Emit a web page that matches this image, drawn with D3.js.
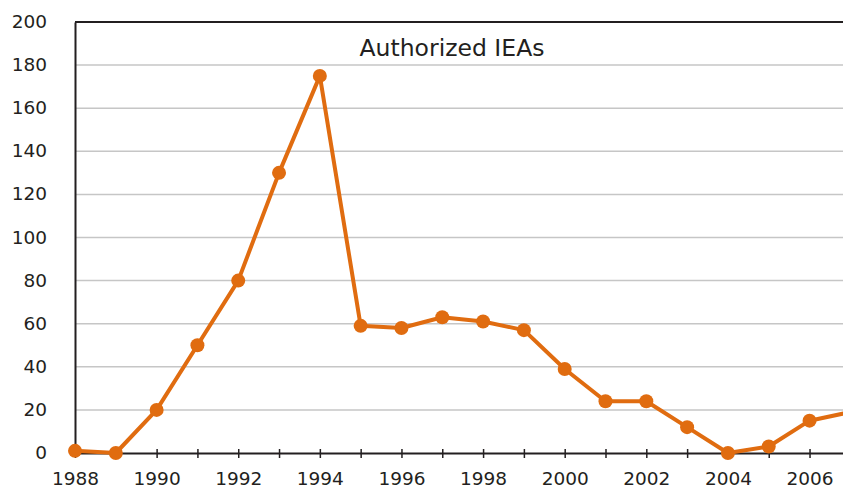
<!DOCTYPE html>
<html>
<head>
<meta charset="utf-8">
<script src="https://cdn.jsdelivr.net/npm/d3@7"></script>
<style>
  body { margin: 0; background: #fff; }
  text { font-family: "DejaVu Sans", "Open Sans", Arial, sans-serif; fill: #231f20; }
</style>
</head>
<body>
<svg id="chart" width="843" height="489"></svg>
<script>
const years = [1988, 1989, 1990, 1991, 1992, 1993, 1994, 1995, 1996, 1997,
  1998, 1999, 2000, 2001, 2002, 2003, 2004, 2005, 2006, 2007];
const authorized = [1, 0, 20, 50, 80, 130, 175, 59, 58, 63,
  61, 57, 39, 24, 24, 12, 0, 3, 15, 19];
const yTicks = [0, 20, 40, 60, 80, 100, 120, 140, 160, 180, 200];
const xLabelYears = [1988, 1990, 1992, 1994, 1996, 1998, 2000, 2002, 2004, 2006];
const title = 'Authorized IEAs';

const width = 843, height = 489;
const margin = { top: 22, right: 0, bottom: 36, left: 75 };
const orange = '#e06c10';

const svg = d3.select('#chart');
const data = years.map((y, i) => ({ year: y, value: authorized[i] }));

const xScale = d3.scaleLinear()
  .domain([1988, 2006.82])
  .range([margin.left, width - margin.right]);
const yScale = d3.scaleLinear()
  .domain([0, 200])
  .range([height - margin.bottom, margin.top]);

// gridlines
svg.append('g')
  .selectAll('line')
  .data(yTicks.filter(d => d > 0 && d < 200))
  .join('line')
  .attr('x1', margin.left)
  .attr('x2', width)
  .attr('y1', d => yScale(d))
  .attr('y2', d => yScale(d))
  .attr('stroke', '#c6c6c6')
  .attr('stroke-width', 1.5);

// top border
svg.append('line')
  .attr('x1', margin.left).attr('x2', width)
  .attr('y1', yScale(200)).attr('y2', yScale(200))
  .attr('stroke', '#231f20').attr('stroke-width', 1.8);

// y axis
const yAxis = svg.append('g')
  .attr('transform', `translate(${margin.left},0)`)
  .call(d3.axisLeft(yScale).tickValues(yTicks).tickSize(0).tickPadding(28));
yAxis.select('.domain').attr('stroke', '#231f20').attr('stroke-width', 2);
yAxis.selectAll('text')
  .attr('dy', '0.3em')
  .style('font-size', '18.5px')
  .attr('fill', '#231f20');

// x axis ticks (every year), crossing the axis
const xAxis = svg.append('g')
  .attr('transform', `translate(0,${yScale(0)})`)
  .call(d3.axisBottom(xScale)
    .tickValues(d3.range(1988, 2007))
    .tickSize(5)
    .tickSizeOuter(0)
    .tickFormat(d => xLabelYears.includes(d) ? d : ''));
xAxis.select('.domain').attr('stroke', '#231f20').attr('stroke-width', 2);
xAxis.selectAll('.tick line')
  .attr('y1', -4).attr('y2', 5)
  .attr('stroke', '#231f20').attr('stroke-width', 1.5);
xAxis.selectAll('.tick text')
  .attr('y', 32)
  .attr('dy', 0)
  .style('font-size', '18.5px')
  .attr('fill', '#231f20');

// title
svg.append('text')
  .attr('x', 452)
  .attr('y', 55.5)
  .attr('text-anchor', 'middle')
  .style('font-size', '23.5px')
  .text(title);

// clip
svg.append('clipPath').attr('id', 'plot-clip')
  .append('rect')
  .attr('x', 0).attr('y', 0)
  .attr('width', width).attr('height', height);

const lineGenerator = d3.line()
  .x(d => xScale(d.year))
  .y(d => yScale(d.value));

const plot = svg.append('g').attr('clip-path', 'url(#plot-clip)');
plot.append('path')
  .datum(data)
  .attr('d', lineGenerator)
  .attr('fill', 'none')
  .attr('stroke', orange)
  .attr('stroke-width', 4)
  .attr('stroke-linejoin', 'round');

plot.selectAll('.dot')
  .data(data)
  .join('circle')
  .attr('class', 'dot')
  .attr('cx', d => xScale(d.year))
  .attr('cy', d => yScale(d.value))
  .attr('r', 7)
  .attr('fill', orange);
</script>
</body>
</html>
